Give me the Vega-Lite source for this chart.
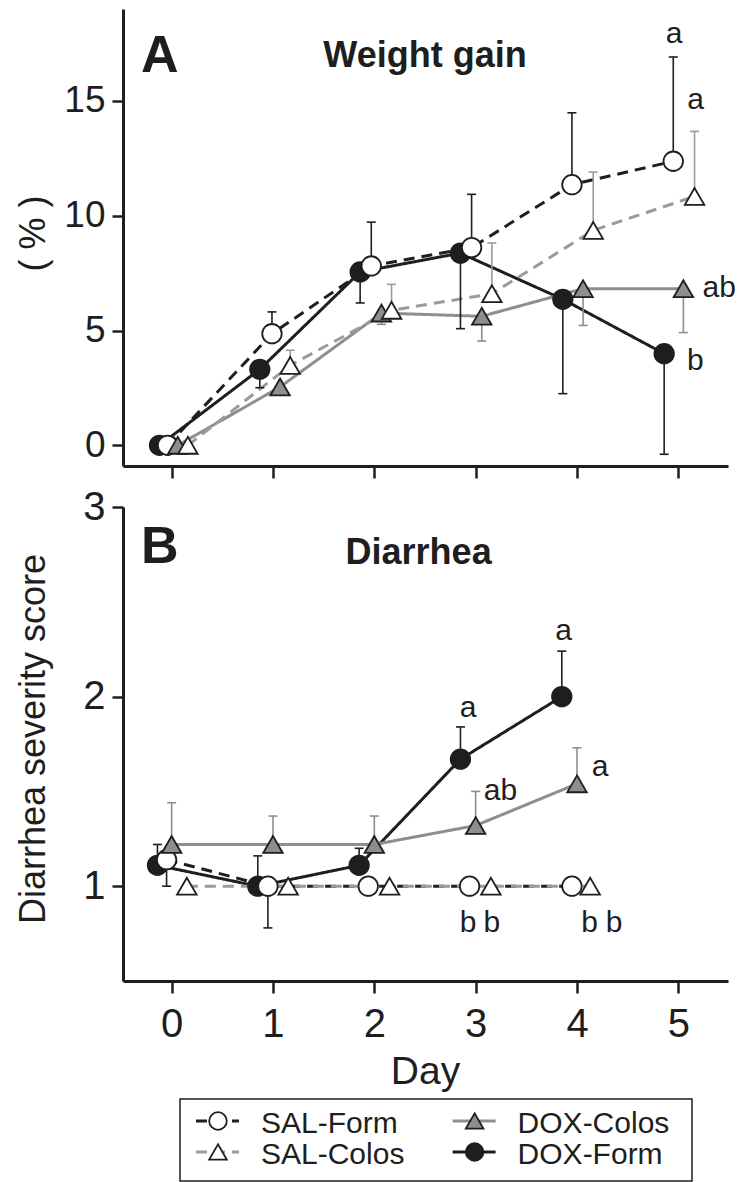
{
  "$schema": "https://vega.github.io/schema/vega-lite/v6.json",
  "background": "white",
  "padding": {"left": 14, "top": 9, "right": 5, "bottom": 0},
  "spacing": 7,
  "config": {
    "view": {"stroke": null},
    "font": "Liberation Sans",
    "axis": {
      "domainColor": "#1e1e1e", "domainWidth": 3,
      "tickColor": "#1e1e1e", "tickWidth": 2.5,
      "labelColor": "#1e1e1e", "titleColor": "#1e1e1e",
      "labelFont": "Liberation Sans", "titleFont": "Liberation Sans",
      "titleFontWeight": "normal", "grid": false,
      "labelFlush": false, "labelOverlap": false, "labelBound": false
    }
  },
  "datasets": {
    "weight": [
      {"series": "DOX-Form", "day": -0.12, "v": 0, "err": null},
      {"series": "DOX-Form", "day": 0.87, "v": 3.31, "err": 2.51},
      {"series": "DOX-Form", "day": 1.86, "v": 7.55, "err": 6.2},
      {"series": "DOX-Form", "day": 2.85, "v": 8.37, "err": 5.08},
      {"series": "DOX-Form", "day": 3.86, "v": 6.36, "err": 2.25},
      {"series": "DOX-Form", "day": 4.86, "v": 3.99, "err": -0.39},
      {"series": "SAL-Form", "day": -0.04, "v": 0, "err": null},
      {"series": "SAL-Form", "day": 0.99, "v": 4.86, "err": 5.81},
      {"series": "SAL-Form", "day": 1.97, "v": 7.81, "err": 9.72},
      {"series": "SAL-Form", "day": 2.96, "v": 8.61, "err": 10.93},
      {"series": "SAL-Form", "day": 3.95, "v": 11.35, "err": 14.48},
      {"series": "SAL-Form", "day": 4.95, "v": 12.37, "err": 16.91},
      {"series": "DOX-Colos", "day": 0.06, "v": 0, "err": null},
      {"series": "DOX-Colos", "day": 1.07, "v": 2.54, "err": null},
      {"series": "DOX-Colos", "day": 2.07, "v": 5.76, "err": 5.27},
      {"series": "DOX-Colos", "day": 3.06, "v": 5.62, "err": 4.54},
      {"series": "DOX-Colos", "day": 4.06, "v": 6.82, "err": 5.22},
      {"series": "DOX-Colos", "day": 5.05, "v": 6.82, "err": 4.91},
      {"series": "SAL-Colos", "day": 0.16, "v": 0, "err": null},
      {"series": "SAL-Colos", "day": 1.17, "v": 3.48, "err": 4.14},
      {"series": "SAL-Colos", "day": 2.17, "v": 5.88, "err": 7.01},
      {"series": "SAL-Colos", "day": 3.16, "v": 6.6, "err": 8.81},
      {"series": "SAL-Colos", "day": 4.16, "v": 9.36, "err": 11.9},
      {"series": "SAL-Colos", "day": 5.16, "v": 10.84, "err": 13.67}
    ],
    "diarrhea": [
      {"series": "DOX-Form", "day": -0.14, "v": 1.11, "err": 1.22},
      {"series": "DOX-Form", "day": 0.85, "v": 1.0, "err": 1.16},
      {"series": "DOX-Form", "day": 1.85, "v": 1.11, "err": 1.2},
      {"series": "DOX-Form", "day": 2.85, "v": 1.67, "err": 1.84},
      {"series": "DOX-Form", "day": 3.85, "v": 2.0, "err": 2.24},
      {"series": "SAL-Form", "day": -0.05, "v": 1.14, "err": 1.0},
      {"series": "SAL-Form", "day": 0.95, "v": 1.0, "err": 0.78},
      {"series": "SAL-Form", "day": 1.94, "v": 1.0, "err": null},
      {"series": "SAL-Form", "day": 2.94, "v": 1.0, "err": null},
      {"series": "SAL-Form", "day": 3.95, "v": 1.0, "err": null},
      {"series": "DOX-Colos", "day": 0.0, "v": 1.22, "err": 1.44},
      {"series": "DOX-Colos", "day": 1.0, "v": 1.22, "err": 1.37},
      {"series": "DOX-Colos", "day": 2.0, "v": 1.22, "err": 1.37},
      {"series": "DOX-Colos", "day": 3.0, "v": 1.32, "err": 1.5},
      {"series": "DOX-Colos", "day": 4.0, "v": 1.54, "err": 1.73},
      {"series": "SAL-Colos", "day": 0.15, "v": 1.0, "err": null},
      {"series": "SAL-Colos", "day": 1.15, "v": 1.0, "err": null},
      {"series": "SAL-Colos", "day": 2.15, "v": 1.0, "err": null},
      {"series": "SAL-Colos", "day": 3.15, "v": 1.0, "err": null},
      {"series": "SAL-Colos", "day": 4.13, "v": 1.0, "err": null}
    ],
    "wlabels": [
      {"kind": "panel", "text": "A", "day": -0.302, "v": 16.26},
      {"kind": "title", "text": "Weight gain", "day": 2.5, "v": 16.48},
      {"kind": "sig", "text": "a", "day": 4.959, "v": 17.52},
      {"kind": "sig", "text": "a", "day": 5.17, "v": 14.65},
      {"kind": "sig", "text": "ab", "day": 5.404, "v": 6.46},
      {"kind": "sig", "text": "b", "day": 5.167, "v": 3.29}
    ],
    "dlabels": [
      {"kind": "panel", "text": "B", "day": -0.302, "v": 2.706},
      {"kind": "title", "text": "Diarrhea", "day": 2.437, "v": 2.699},
      {"kind": "sig", "text": "a", "day": 2.926, "v": 1.891},
      {"kind": "sig", "text": "a", "day": 3.868, "v": 2.296},
      {"kind": "sig", "text": "ab", "day": 3.245, "v": 1.455},
      {"kind": "sig", "text": "a", "day": 4.227, "v": 1.582},
      {"kind": "sig", "text": "b", "day": 2.926, "v": 0.756},
      {"kind": "sig", "text": "b", "day": 3.16, "v": 0.756},
      {"kind": "sig", "text": "b", "day": 4.125, "v": 0.756},
      {"kind": "sig", "text": "b", "day": 4.365, "v": 0.756}
    ],
    "legend": [
      {"series": "SAL-Form", "col": 0, "row": 0},
      {"series": "DOX-Colos", "col": 1, "row": 0},
      {"series": "SAL-Colos", "col": 0, "row": 1},
      {"series": "DOX-Form", "col": 1, "row": 1}
    ]
  },
  "vconcat": [
    {
      "width": 605,
      "height": 457,
      "encoding": {
        "x": {"field": "day", "type": "quantitative", "scale": {"domain": [-0.48, 5.49], "nice": false, "zero": false},
              "axis": {"values": [0, 1, 2, 3, 4, 5], "labels": false, "title": null, "tickSize": 12}},
        "y": {"field": "v", "type": "quantitative", "scale": {"domain": [-0.9, 19], "nice": false, "zero": false},
              "axis": {"values": [0, 5, 10, 15], "title": "( % )", "labelFontSize": 37, "tickSize": 11, "labelPadding": 7,
                       "titleFontSize": 36, "titleX": -79, "titleY": 224, "titleAngle": 270, "titleBaseline": "alphabetic", "titleAlign": "center"}}
      },
      "layer": [
        {
          "data": {"name": "weight"},
          "mark": {"type": "line", "strokeWidth": 3},
          "encoding": {
            "color": {"field": "series", "type": "nominal", "scale": {"domain": ["SAL-Form", "SAL-Colos", "DOX-Colos", "DOX-Form"], "range": ["#1e1e1e", "#9b9b9b", "#8e8e8e", "#1e1e1e"]}, "legend": null},
            "strokeDash": {"field": "series", "type": "nominal", "scale": {"domain": ["SAL-Form", "SAL-Colos", "DOX-Colos", "DOX-Form"], "range": [[11, 7], [11, 7], [1, 0], [1, 0]]}, "legend": null}
          }
        },
        {
          "data": {"name": "weight"},
          "transform": [{"filter": "datum.err != null"}],
          "mark": {"type": "rule", "strokeWidth": 1.6},
          "encoding": {
            "y2": {"field": "err"},
            "color": {"field": "series", "type": "nominal", "scale": {"domain": ["SAL-Form", "SAL-Colos", "DOX-Colos", "DOX-Form"], "range": ["#1e1e1e", "#9b9b9b", "#8e8e8e", "#1e1e1e"]}, "legend": null}
          }
        },
        {
          "data": {"name": "weight"},
          "transform": [{"filter": "datum.err != null"}],
          "mark": {"type": "rule", "strokeWidth": 1.6, "xOffset": -4.5, "x2Offset": 4.5},
          "encoding": {
            "x2": {"field": "day"},
            "y": {"field": "err", "type": "quantitative"},
            "color": {"field": "series", "type": "nominal", "scale": {"domain": ["SAL-Form", "SAL-Colos", "DOX-Colos", "DOX-Form"], "range": ["#1e1e1e", "#9b9b9b", "#8e8e8e", "#1e1e1e"]}, "legend": null}
          }
        },
        {
          "data": {"name": "weight"},
          "mark": {"type": "point", "filled": true, "stroke": "#1e1e1e", "strokeWidth": 1.8, "opacity": 1, "size": 380},
          "encoding": {
            "shape": {"field": "series", "type": "nominal", "scale": {"domain": ["SAL-Form", "SAL-Colos", "DOX-Colos", "DOX-Form"], "range": ["circle", "triangle-up", "triangle-up", "circle"]}, "legend": null},
            "fill": {"field": "series", "type": "nominal", "scale": {"domain": ["SAL-Form", "SAL-Colos", "DOX-Colos", "DOX-Form"], "range": ["#ffffff", "#ffffff", "#8e8e8e", "#1e1e1e"]}, "legend": null}
          }
        },
        {
          "data": {"name": "wlabels"},
          "transform": [{"filter": "datum.kind == 'panel'"}],
          "mark": {"type": "text", "align": "left", "baseline": "alphabetic", "fontSize": 52, "fontWeight": "bold", "color": "#1e1e1e"},
          "encoding": {"text": {"field": "text"}}
        },
        {
          "data": {"name": "wlabels"},
          "transform": [{"filter": "datum.kind == 'title'"}],
          "mark": {"type": "text", "align": "center", "baseline": "alphabetic", "fontSize": 36, "fontWeight": "bold", "color": "#1e1e1e"},
          "encoding": {"text": {"field": "text"}}
        },
        {
          "data": {"name": "wlabels"},
          "transform": [{"filter": "datum.kind == 'sig'"}],
          "mark": {"type": "text", "align": "center", "baseline": "alphabetic", "fontSize": 30, "color": "#1e1e1e"},
          "encoding": {"text": {"field": "text"}}
        }
      ]
    },
    {
      "width": 605,
      "height": 474,
      "encoding": {
        "x": {"field": "day", "type": "quantitative", "scale": {"domain": [-0.48, 5.49], "nice": false, "zero": false},
              "axis": {"values": [0, 1, 2, 3, 4, 5], "title": "Day", "labelFontSize": 40, "tickSize": 12, "labelPadding": 11,
                       "titleFontSize": 39, "titleY": 102, "titleX": 302, "titleBaseline": "alphabetic", "titleAlign": "center"}},
        "y": {"field": "v", "type": "quantitative", "scale": {"domain": [0.5, 3], "nice": false, "zero": false},
              "axis": {"values": [1, 2, 3], "title": "Diarrhea severity score", "labelFontSize": 40, "tickSize": 11, "labelPadding": 7,
                       "titleFontSize": 36, "titleX": -79, "titleY": 231.5, "titleAngle": 270, "titleBaseline": "alphabetic", "titleAlign": "center"}}
      },
      "layer": [
        {
          "data": {"name": "diarrhea"},
          "mark": {"type": "line", "strokeWidth": 3},
          "encoding": {
            "color": {"field": "series", "type": "nominal", "scale": {"domain": ["SAL-Form", "SAL-Colos", "DOX-Colos", "DOX-Form"], "range": ["#1e1e1e", "#9b9b9b", "#8e8e8e", "#1e1e1e"]}, "legend": null},
            "strokeDash": {"field": "series", "type": "nominal", "scale": {"domain": ["SAL-Form", "SAL-Colos", "DOX-Colos", "DOX-Form"], "range": [[11, 7], [11, 7], [1, 0], [1, 0]]}, "legend": null}
          }
        },
        {
          "data": {"name": "diarrhea"},
          "transform": [{"filter": "datum.err != null"}],
          "mark": {"type": "rule", "strokeWidth": 1.6},
          "encoding": {
            "y2": {"field": "err"},
            "color": {"field": "series", "type": "nominal", "scale": {"domain": ["SAL-Form", "SAL-Colos", "DOX-Colos", "DOX-Form"], "range": ["#1e1e1e", "#9b9b9b", "#8e8e8e", "#1e1e1e"]}, "legend": null}
          }
        },
        {
          "data": {"name": "diarrhea"},
          "transform": [{"filter": "datum.err != null"}],
          "mark": {"type": "rule", "strokeWidth": 1.6, "xOffset": -4.5, "x2Offset": 4.5},
          "encoding": {
            "x2": {"field": "day"},
            "y": {"field": "err", "type": "quantitative"},
            "color": {"field": "series", "type": "nominal", "scale": {"domain": ["SAL-Form", "SAL-Colos", "DOX-Colos", "DOX-Form"], "range": ["#1e1e1e", "#9b9b9b", "#8e8e8e", "#1e1e1e"]}, "legend": null}
          }
        },
        {
          "data": {"name": "diarrhea"},
          "mark": {"type": "point", "filled": true, "stroke": "#1e1e1e", "strokeWidth": 1.8, "opacity": 1, "size": 380},
          "encoding": {
            "shape": {"field": "series", "type": "nominal", "scale": {"domain": ["SAL-Form", "SAL-Colos", "DOX-Colos", "DOX-Form"], "range": ["circle", "triangle-up", "triangle-up", "circle"]}, "legend": null},
            "fill": {"field": "series", "type": "nominal", "scale": {"domain": ["SAL-Form", "SAL-Colos", "DOX-Colos", "DOX-Form"], "range": ["#ffffff", "#ffffff", "#8e8e8e", "#1e1e1e"]}, "legend": null}
          }
        },
        {
          "data": {"name": "dlabels"},
          "transform": [{"filter": "datum.kind == 'panel'"}],
          "mark": {"type": "text", "align": "left", "baseline": "alphabetic", "fontSize": 52, "fontWeight": "bold", "color": "#1e1e1e"},
          "encoding": {"text": {"field": "text"}}
        },
        {
          "data": {"name": "dlabels"},
          "transform": [{"filter": "datum.kind == 'title'"}],
          "mark": {"type": "text", "align": "center", "baseline": "alphabetic", "fontSize": 36, "fontWeight": "bold", "color": "#1e1e1e"},
          "encoding": {"text": {"field": "text"}}
        },
        {
          "data": {"name": "dlabels"},
          "transform": [{"filter": "datum.kind == 'sig'"}],
          "mark": {"type": "text", "align": "center", "baseline": "alphabetic", "fontSize": 30, "color": "#1e1e1e"},
          "encoding": {"text": {"field": "text"}}
        }
      ]
    },
    {
      "spacing": 0,
      "hconcat": [
        {
          "width": 56,
          "height": 82,
          "data": {"values": [{}]},
          "mark": {"type": "text", "text": ""},
          "encoding": {}
        },
        {
          "width": 512,
          "height": 82,
          "view": {"stroke": "#1e1e1e", "strokeWidth": 1.5},
          "data": {"name": "legend"},
          "encoding": {
            "x": {"field": "col", "type": "quantitative", "scale": {"domain": [-0.148, 1.847], "nice": false, "zero": false}, "axis": null},
            "y": {"field": "row", "type": "quantitative", "scale": {"domain": [-0.71, 1.935], "nice": false, "zero": false, "reverse": true}, "axis": null}
          },
          "layer": [
            {
              "mark": {"type": "rule", "strokeWidth": 3, "xOffset": -22, "x2Offset": 21},
              "encoding": {
                "x2": {"field": "col"},
                "color": {"field": "series", "type": "nominal", "scale": {"domain": ["SAL-Form", "SAL-Colos", "DOX-Colos", "DOX-Form"], "range": ["#1e1e1e", "#9b9b9b", "#8e8e8e", "#1e1e1e"]}, "legend": null},
                "strokeDash": {"field": "series", "type": "nominal", "scale": {"domain": ["SAL-Form", "SAL-Colos", "DOX-Colos", "DOX-Form"], "range": [[11, 7], [11, 7], [1, 0], [1, 0]]}, "legend": null}
              }
            },
            {
              "mark": {"type": "point", "filled": true, "stroke": "#1e1e1e", "strokeWidth": 1.8, "opacity": 1, "size": 310},
              "encoding": {
                "shape": {"field": "series", "type": "nominal", "scale": {"domain": ["SAL-Form", "SAL-Colos", "DOX-Colos", "DOX-Form"], "range": ["circle", "triangle-up", "triangle-up", "circle"]}, "legend": null},
                "fill": {"field": "series", "type": "nominal", "scale": {"domain": ["SAL-Form", "SAL-Colos", "DOX-Colos", "DOX-Form"], "range": ["#ffffff", "#ffffff", "#8e8e8e", "#1e1e1e"]}, "legend": null}
              }
            },
            {
              "mark": {"type": "text", "align": "left", "baseline": "middle", "dx": 43, "dy": 3, "fontSize": 30, "color": "#1e1e1e"},
              "encoding": {"text": {"field": "series"}}
            }
          ]
        }
      ]
    }
  ]
}
